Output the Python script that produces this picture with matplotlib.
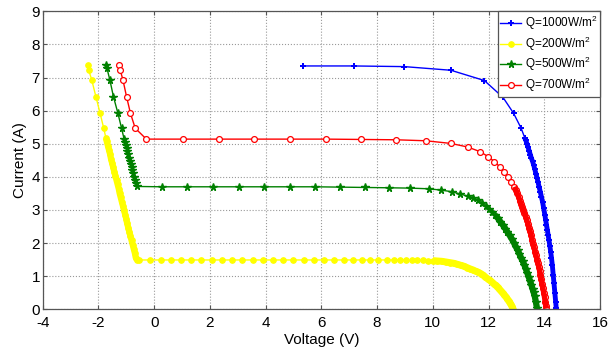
import matplotlib
matplotlib.use("Agg")
import matplotlib.pyplot as plt

plt.rcParams['font.family'] = ['Liberation Sans', 'DejaVu Sans']
plt.rcParams['mathtext.fontset'] = 'custom'
plt.rcParams['mathtext.rm'] = 'Liberation Sans'
plt.rcParams['axes.unicode_minus'] = False

# Q = 1000 W/m2
v1000 = [5.33, 7.16, 8.98, 10.65, 11.85, 12.52, 12.90, 13.17, 13.30,
         13.34, 13.38, 13.42, 13.46, 13.50, 13.54, 13.58, 13.62, 13.66, 13.70,
         13.74, 13.78, 13.82, 13.86, 13.90, 13.94, 13.98, 14.02, 14.05, 14.08,
         14.11, 14.14, 14.17, 14.20, 14.23, 14.26, 14.29, 14.32, 14.35, 14.38,
         14.41, 14.43]
i1000 = [7.35, 7.35, 7.33, 7.22, 6.91, 6.40, 5.92, 5.47, 5.18,
         5.10, 5.00, 4.89, 4.78, 4.67, 4.56, 4.47, 4.36, 4.23, 4.10,
         3.97, 3.83, 3.68, 3.54, 3.39, 3.24, 3.05, 2.86, 2.70, 2.55,
         2.40, 2.24, 2.08, 1.92, 1.74, 1.55, 1.33, 1.05, 0.78, 0.50,
         0.22, 0.03]

# Q = 200 W/m2
v200 = [-2.38, -2.35, -2.24, -2.09, -1.94, -1.81, -1.73,
        -1.70, -1.66, -1.62, -1.58, -1.55, -1.51, -1.47, -1.43, -1.39, -1.35,
        -1.31, -1.27, -1.24, -1.20, -1.16, -1.12, -1.08, -1.04, -1.00, -0.97,
        -0.93, -0.89, -0.85, -0.81, -0.77, -0.73, -0.69, -0.66, -0.62,
        -0.56, -0.14, 0.24, 0.60, 0.96, 1.32, 1.69, 2.07, 2.43, 2.80, 3.17,
        3.54, 3.90, 4.26, 4.62, 5.00, 5.36, 5.72, 6.08, 6.44, 6.80, 7.13,
        7.45, 7.76, 8.05, 8.35, 8.59, 8.83, 9.05, 9.25, 9.45, 9.65, 9.83,
        10.00, 10.16, 10.32, 10.47, 10.61, 10.75, 10.88, 11.00, 11.12, 11.23,
        11.34, 11.44, 11.54, 11.63, 11.72, 11.81, 11.89, 11.97, 12.05, 12.12,
        12.19, 12.26, 12.33, 12.39, 12.45, 12.51, 12.57, 12.62, 12.67, 12.72,
        12.77, 12.81, 12.85, 12.88]
i200 = [7.38, 7.23, 6.93, 6.42, 5.92, 5.47, 5.17,
        5.07, 4.94, 4.81, 4.68, 4.55, 4.42, 4.29, 4.16, 4.03, 3.90,
        3.77, 3.64, 3.51, 3.38, 3.25, 3.12, 2.99, 2.86, 2.73, 2.60,
        2.47, 2.34, 2.21, 2.08, 1.95, 1.82, 1.69, 1.56, 1.50,
        1.49, 1.49, 1.49, 1.49, 1.49, 1.49, 1.49, 1.49, 1.49, 1.49, 1.49,
        1.49, 1.49, 1.49, 1.49, 1.49, 1.49, 1.49, 1.49, 1.49, 1.49, 1.49,
        1.49, 1.49, 1.49, 1.49, 1.49, 1.49, 1.48, 1.48, 1.48, 1.48, 1.47,
        1.47, 1.46, 1.45, 1.43, 1.41, 1.39, 1.36, 1.33, 1.30, 1.26,
        1.22, 1.19, 1.15, 1.12, 1.08, 1.03, 0.97, 0.92, 0.87, 0.82,
        0.77, 0.72, 0.66, 0.61, 0.55, 0.49, 0.43, 0.38, 0.32, 0.26,
        0.19, 0.14, 0.08, 0.02]

# Q = 500 W/m2
v500 = [-1.72, -1.70, -1.59, -1.46, -1.30, -1.17, -1.08,
        -1.05, -1.02, -0.99, -0.96, -0.93, -0.90, -0.87, -0.84, -0.81, -0.78,
        -0.75, -0.72, -0.69, -0.66, -0.63,
        0.28, 1.19, 2.11, 3.03, 3.95, 4.86, 5.77, 6.68, 7.58, 8.42, 9.19,
        9.85, 10.30, 10.69, 10.99, 11.25,
        11.45, 11.62, 11.77, 11.90, 12.02, 12.13, 12.23, 12.33, 12.42, 12.51,
        12.60, 12.68, 12.76, 12.84, 12.91, 12.98, 13.05, 13.11, 13.17, 13.23,
        13.29, 13.34, 13.39, 13.44, 13.49, 13.54, 13.58, 13.62, 13.66, 13.70,
        13.74]
i500 = [7.38, 7.30, 6.93, 6.42, 5.92, 5.47, 5.15,
        5.06, 4.96, 4.87, 4.77, 4.68, 4.58, 4.49, 4.39, 4.30, 4.20,
        4.11, 4.01, 3.92, 3.82, 3.71,
        3.70, 3.70, 3.70, 3.70, 3.70, 3.70, 3.70, 3.69, 3.68, 3.67, 3.66,
        3.64, 3.60, 3.55, 3.48, 3.42,
        3.37, 3.29, 3.21, 3.12, 3.02, 2.93, 2.84, 2.76, 2.65, 2.55,
        2.44, 2.33, 2.23, 2.12, 2.01, 1.89, 1.78, 1.67, 1.55, 1.45,
        1.33, 1.22, 1.10, 0.98, 0.86, 0.73, 0.62, 0.51, 0.39, 0.22,
        0.03]

# Q = 700 W/m2
v700 = [-1.26, -1.22, -1.12, -0.99, -0.85, -0.68, -0.28,
        1.02, 2.31, 3.59, 4.88, 6.16, 7.43, 8.68, 9.75, 10.65, 11.26, 11.70,
        11.99, 12.21, 12.40, 12.54, 12.69, 12.81, 12.93,
        12.98, 13.03, 13.08, 13.13, 13.17, 13.21, 13.25, 13.29, 13.33, 13.37,
        13.41, 13.45, 13.49, 13.53, 13.56, 13.60, 13.63, 13.67, 13.70, 13.74,
        13.77, 13.80, 13.83, 13.86, 13.89, 13.92, 13.95, 13.98, 14.01, 14.04,
        14.06, 14.08]
i700 = [7.38, 7.23, 6.93, 6.42, 5.92, 5.47, 5.14,
        5.14, 5.14, 5.14, 5.14, 5.14, 5.13, 5.12, 5.09, 5.01, 4.90, 4.76,
        4.61, 4.46, 4.31, 4.16, 4.01, 3.84, 3.70,
        3.60, 3.50, 3.39, 3.27, 3.18, 3.09, 3.00, 2.90, 2.80, 2.69,
        2.59, 2.47, 2.36, 2.24, 2.09, 1.97, 1.87, 1.74, 1.64, 1.50,
        1.40, 1.29, 1.17, 1.05, 0.91, 0.77, 0.64, 0.50, 0.36, 0.21,
        0.11, 0.02]

labels = ['Q=1000W/m$^2$', 'Q=200W/m$^2$', 'Q=500W/m$^2$', 'Q=700W/m$^2$']
xticks = list(range(-4, 17, 2))
yticks = list(range(0, 10))


def seg(v, i, lo, hi):
    # part of a curve where the simulation points are so dense they form a band
    pts = [(a, b) for a, b in zip(v, i) if lo <= a <= hi]
    return [p[0] for p in pts], [p[1] for p in pts]


fig = plt.figure(figsize=(6.16, 3.54), dpi=100)
ax = fig.add_axes([0.0693, 0.1263, 0.9047, 0.8417])

blue, yellow, green, red = '#0000ff', '#ffff00', '#008000', '#ff0000'

ax.plot(v1000, i1000, color=blue, lw=1, marker='P', ms=4, mew=0, label=labels[0])
ax.plot(*seg(v1000, i1000, 13.3, 15), color=blue, lw=3.5, solid_capstyle='butt')

ax.plot(v200, i200, color=yellow, lw=1, marker='o', ms=4, mew=0.8, label=labels[1])
ax.plot(*seg(v200, i200, -1.75, -0.6), color=yellow, lw=4.5, solid_capstyle='butt')
ax.plot(*seg(v200, i200, 10.0, 15), color=yellow, lw=5, solid_capstyle='butt')

ax.plot(v500, i500, color=green, lw=1, marker='*', ms=5.5, label=labels[2])
ax.plot(*seg(v500, i500, 12.2, 15), color=green, lw=4.5, solid_capstyle='butt')

ax.plot(v700, i700, color=red, lw=1, marker='o', ms=4.2, mfc='white', mew=0.9,
        label=labels[3])
ax.plot(*seg(v700, i700, 12.93, 15), color=red, lw=3.8, solid_capstyle='butt')

ax.set_xlim(-4, 16)
ax.set_ylim(0, 9)
ax.set_xticks(xticks)
ax.set_yticks(yticks)
ax.tick_params(direction='in', length=3, top=True, right=True, labelsize=11,
               color='#555555')
ax.tick_params(axis='x', pad=5)
ax.tick_params(axis='y', pad=2)
for s in ax.spines.values():
    s.set_color('#555555')
    s.set_linewidth(0.9)
ax.grid(True, linestyle=':', color='#999999', lw=0.8)
ax.set_axisbelow(True)

ax.set_xlabel('Voltage (V)', fontsize=11, labelpad=2)
ax.set_ylabel('Current (A)', fontsize=11, labelpad=3)

leg = ax.legend(loc='upper right', borderaxespad=0, fontsize=8.5, fancybox=False,
                framealpha=1, edgecolor='#555555', handlelength=1.8,
                handletextpad=0.3, borderpad=0.2, labelspacing=0.22)
leg.get_frame().set_linewidth(0.9)

fig.savefig('out.png', dpi=100)
